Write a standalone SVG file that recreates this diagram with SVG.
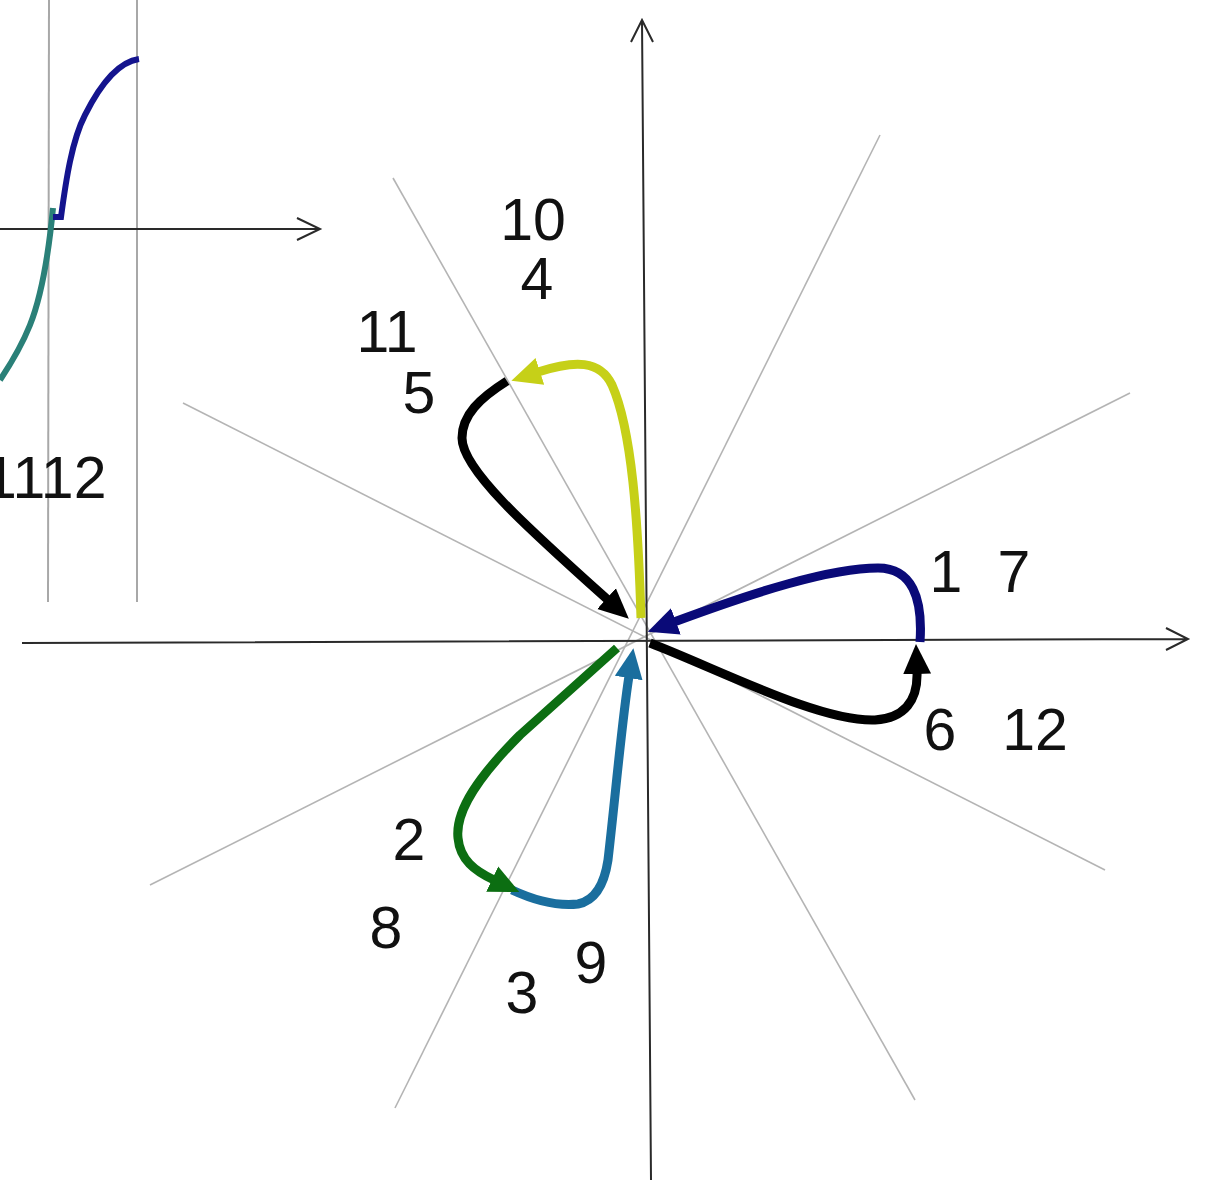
<svg xmlns="http://www.w3.org/2000/svg" width="1205" height="1192" viewBox="0 0 1205 1192">
<style>
.axis{stroke:#2a2a2a;stroke-width:2;fill:none}
.ray{stroke:#b4b4b4;stroke-width:1.6;fill:none}
.vline{stroke:#a8a8a8;stroke-width:2;fill:none}
.curve{fill:none;stroke-width:9;stroke-linecap:butt;stroke-linejoin:round}
.small{fill:none;stroke-width:6;stroke-linecap:butt}
.lbl{font-family:"Liberation Sans",Arial,sans-serif;font-size:59px;fill:#111;text-anchor:middle}
</style>
<defs>
<marker id="aBlue" markerUnits="userSpaceOnUse" markerWidth="36" markerHeight="36" viewBox="0 -18 36 36" refX="2" refY="0" orient="auto"><path d="M0,-14 L30,0 L0,14 z" fill="#0a0a78"/></marker>
<marker id="aBlack" markerUnits="userSpaceOnUse" markerWidth="36" markerHeight="36" viewBox="0 -18 36 36" refX="2" refY="0" orient="auto"><path d="M0,-14 L30,0 L0,14 z" fill="#000"/></marker>
<marker id="aYellow" markerUnits="userSpaceOnUse" markerWidth="36" markerHeight="36" viewBox="0 -18 36 36" refX="2" refY="0" orient="auto"><path d="M0,-14 L30,0 L0,14 z" fill="#c6d018"/></marker>
<marker id="aGreen" markerUnits="userSpaceOnUse" markerWidth="36" markerHeight="36" viewBox="0 -18 36 36" refX="2" refY="0" orient="auto"><path d="M0,-14 L30,0 L0,14 z" fill="#0c6e12"/></marker>
<marker id="aTeal" markerUnits="userSpaceOnUse" markerWidth="36" markerHeight="36" viewBox="0 -18 36 36" refX="2" refY="0" orient="auto"><path d="M0,-14 L30,0 L0,14 z" fill="#1a6e9e"/></marker>
</defs>

<g id="left-plot">
<line class="vline" x1="49" y1="0" x2="48" y2="602"/>
<line class="vline" x1="137" y1="0" x2="137" y2="602"/>
<path class="axis" d="M0,229 L320,229 M297,218 L320,229 L297,240"/>
<path class="small" stroke="#2a8078" d="M53,208 C48,260 40,300 30,325 C22,345 10,365 0,380"/>
<path class="small" stroke="#14148e" d="M53,217 L61,217 C66,180 72,140 85,115 C100,85 118,62 139,59"/>
<text class="lbl" x="-16" y="498" style="text-anchor:start">1112</text>
</g>

<g id="rays">
<line class="ray" x1="393" y1="178" x2="915" y2="1100"/>
<line class="ray" x1="880" y1="135" x2="395" y2="1108"/>
<line class="ray" x1="183" y1="403" x2="1105" y2="870"/>
<line class="ray" x1="1130" y1="393" x2="150" y2="885"/>
</g>

<g id="axes">
<path class="axis" d="M22,643 L1188,639 M1166,628 L1188,639 L1166,650"/>
<path class="axis" d="M651,1180 L642,20 M631,42 L642,20 L653,42"/>
</g>

<g id="connectors">
<path class="curve" stroke="#0a0a78" marker-end="url(#aBlue)" d="M920,642 C923,598 912,568 878,568 C830,568 755,592 674,622"/>
<path class="curve" stroke="#000" marker-end="url(#aBlack)" d="M650,643 C720,670 820,722 875,720 C905,718 918,700 917,672"/>
<path class="curve" stroke="#000" marker-end="url(#aBlack)" d="M507,381 C480,398 462,415 462,438 C462,470 530,530 608,600"/>
<path class="curve" stroke="#c6d018" marker-end="url(#aYellow)" d="M641,618 C638,520 632,430 612,385 C600,360 575,360 538,372"/>
<path class="curve" stroke="#1a6e9e" marker-end="url(#aTeal)" d="M512,890 C540,903 560,906 578,904 C598,900 605,880 608,860 C615,800 622,720 629,676"/>
<path class="curve" stroke="#0c6e12" marker-end="url(#aGreen)" d="M617,648 L520,735 C480,775 455,810 458,838 C460,860 475,871 494,880"/>
</g>

<g id="labels">
<text class="lbl" x="533" y="240">10</text>
<text class="lbl" x="537" y="299">4</text>
<text class="lbl" x="387" y="352">11</text>
<text class="lbl" x="419" y="413">5</text>
<text class="lbl" x="946" y="592">1</text>
<text class="lbl" x="1014" y="592">7</text>
<text class="lbl" x="940" y="750">6</text>
<text class="lbl" x="1035" y="750">12</text>
<text class="lbl" x="409" y="860">2</text>
<text class="lbl" x="386" y="948">8</text>
<text class="lbl" x="522" y="1013">3</text>
<text class="lbl" x="591" y="983">9</text>
</g>
</svg>
